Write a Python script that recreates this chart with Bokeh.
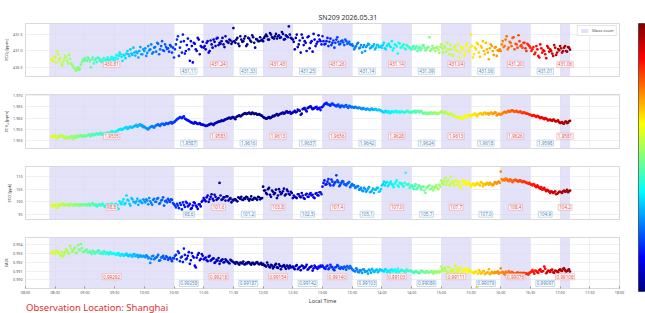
import numpy as np
from bokeh.plotting import figure
from bokeh.models import (Range1d, FixedTicker, Label, Legend, LegendItem,
                          LinearColorMapper, Title, ColumnDataSource, PrintfTickFormatter)
from bokeh.layouts import column, row
from bokeh.embed import file_html
from bokeh.resources import INLINE
from bokeh.transform import linear_cmap

# ---------------- data ----------------
# two interleaved sample sets, each every 2 minutes
START_A = "08:26"
START_B = "08:27"
STEP_MIN = 2

XCO2_A = [
    430.75, 430.68, 430.80, 431.00, 430.72, 430.60, 430.66, 430.85, 430.70, 430.88, 430.62, 430.52, 430.47, 430.44, 430.42, 430.58, 430.74,
    430.78, 430.70, 430.76, 430.50, 430.80, 430.72, 430.66, 430.78, 430.74, 430.70, 430.68, 430.75, 430.72, 430.76, 430.74,
    430.72, 430.88, 430.85, 430.90, 430.70, 430.86, 430.92, 430.90, 431.05, 430.88, 430.95, 430.98, 430.80, 431.12, 430.90,
    431.00, 430.85, 431.15, 431.05, 430.92, 431.10, 430.98, 431.22, 431.05, 431.30, 431.00, 431.12, 431.08, 431.18, 430.95,
    430.80, 431.20, 431.45, 431.10, 430.95, 431.30, 431.00, 431.38, 430.70, 431.15, 431.25, 431.05, 431.40, 430.90, 431.12,
    431.10, 431.05, 431.30, 431.00, 431.20, 431.35, 431.15, 431.40, 431.25, 431.30, 431.20, 431.45, 431.28, 431.35, 431.22,
    431.70, 431.25, 431.40, 431.15, 431.35, 431.30, 431.45, 431.20, 431.38, 431.28, 431.42, 431.10, 431.35, 431.30, 431.32,
    431.30, 431.45, 431.45, 431.35, 431.50, 431.40, 431.45, 431.38, 431.48, 431.42, 431.52, 431.36, 431.45, 431.75, 431.40,
    431.35, 431.05, 431.50, 431.20, 430.95, 431.40, 431.30, 431.00, 431.45, 431.25, 430.98, 431.35, 431.22, 431.48, 431.30,
    431.45, 431.20, 431.30, 431.15, 431.38, 431.25, 431.10, 431.35, 431.28, 431.22, 431.32, 431.18, 431.30, 431.24, 431.20,
    431.20, 431.05, 431.15, 431.25, 431.10, 430.95, 431.18, 431.12, 431.22, 431.08, 431.15, 431.20, 431.10, 431.18, 431.12,
    431.10, 431.25, 431.05, 431.20, 431.15, 431.30, 431.08, 431.18, 430.92, 431.22, 431.12, 431.20, 431.05, 431.15, 431.10,
    431.05, 431.15, 431.10, 431.00, 431.12, 431.08, 431.18, 431.02, 431.10, 431.42, 431.05, 431.08, 431.00, 431.12, 430.95,
    431.20, 430.95, 431.10, 431.25, 430.90, 431.05, 430.85, 431.15, 431.00, 430.80, 431.12, 431.08, 430.92, 431.22, 431.00,
    431.50, 430.80, 431.10, 431.25, 430.95, 431.15, 431.30, 430.90, 431.05, 430.75, 431.20, 431.00, 431.10, 430.85, 431.00,
    431.00, 431.30, 431.15, 431.45, 431.10, 431.25, 431.40, 431.05, 431.20, 431.48, 431.15, 431.10, 431.25, 431.00, 431.18,
    431.10, 431.05, 430.90, 431.15, 430.85, 431.20, 430.95, 431.00, 430.78, 431.10, 431.05, 430.92, 431.18, 430.88, 431.06,
    431.15, 430.95, 431.10, 431.00, 431.12, 431.04,
]
XCO2_B = [
    430.70, 430.82, 430.65, 430.90, 430.78, 430.55, 430.74, 430.80, 430.62, 430.76, 430.58, 430.48, 430.40, 430.50, 430.46, 430.66, 430.70,
    430.72, 430.80, 430.68, 430.74, 430.62, 430.76, 430.80, 430.70, 430.66, 430.78, 430.72, 430.80, 430.70, 430.82, 430.78,
    430.80, 430.76, 430.95, 430.82, 430.88, 430.78, 431.00, 430.84, 430.92, 431.10, 430.86, 430.94, 431.00, 430.90, 431.05,
    431.08, 430.94, 431.02, 431.20, 430.96, 431.12, 431.25, 430.90, 431.15, 431.02, 431.20, 431.06, 430.98, 431.14, 431.10,
    431.05, 431.35, 430.85, 431.28, 431.50, 430.92, 431.18, 431.05, 431.30, 430.65, 431.22, 431.00, 431.35, 431.15, 431.28,
    431.15, 431.25, 430.95, 431.32, 431.10, 431.28, 431.38, 431.18, 431.22, 431.40, 431.12, 431.30, 431.25, 431.32, 431.28,
    431.30, 431.35, 431.22, 431.45, 431.28, 431.38, 431.15, 431.40, 431.32, 431.48, 431.25, 431.36, 431.30, 431.42, 431.35,
    431.40, 431.50, 431.35, 431.55, 431.42, 431.38, 431.52, 431.45, 431.40, 431.58, 431.35, 431.48, 431.42, 431.50, 431.38,
    431.28, 431.40, 431.12, 431.32, 431.50, 431.18, 431.25, 431.42, 431.08, 431.30, 431.52, 431.15, 431.28, 431.35, 431.20,
    431.30, 431.22, 431.40, 431.28, 431.18, 431.32, 431.25, 431.42, 431.20, 431.30, 431.26, 431.35, 431.22, 431.28, 431.18,
    431.15, 431.10, 431.22, 431.08, 431.18, 431.12, 431.00, 431.16, 431.20, 431.10, 431.14, 431.05, 431.18, 431.12, 431.15,
    431.18, 431.08, 431.15, 431.22, 431.12, 431.02, 431.20, 431.14, 431.25, 431.10, 431.16, 431.08, 431.18, 431.12, 431.06,
    431.12, 431.06, 431.14, 431.08, 431.02, 431.16, 431.10, 431.05, 431.12, 431.00, 431.15, 431.08, 431.10, 431.04, 431.12,
    431.08, 431.15, 430.98, 431.05, 431.18, 430.88, 431.10, 431.02, 431.20, 430.95, 431.06, 430.85, 431.15, 431.00, 431.10,
    431.15, 430.90, 431.05, 431.20, 430.82, 431.10, 431.00, 431.25, 430.95, 431.08, 431.15, 430.88, 431.12, 431.02, 431.05,
    431.20, 431.12, 431.35, 431.05, 431.28, 431.15, 431.42, 431.22, 431.10, 431.30, 431.18, 431.25, 431.08, 431.22, 431.15,
    431.00, 431.12, 430.95, 431.05, 430.80, 431.08, 431.02, 430.90, 431.15, 430.98, 431.00, 430.85, 431.10, 430.95, 431.02,
    431.08, 431.00, 431.15, 430.98, 431.10,
]

XCH4_A = [
    1.9520, 1.9515, 1.9522, 1.9512, 1.9518, 1.9525, 1.9520, 1.9510, 1.9515, 1.9512, 1.9520, 1.9508, 1.9515, 1.9522, 1.9518, 1.9525, 1.9520,
    1.9518, 1.9522, 1.9528, 1.9520, 1.9530, 1.9526, 1.9532, 1.9528, 1.9535, 1.9530, 1.9526, 1.9534, 1.9530, 1.9538, 1.9540,
    1.9535, 1.9542, 1.9548, 1.9552, 1.9550, 1.9556, 1.9560, 1.9555, 1.9562, 1.9558, 1.9564, 1.9570, 1.9566, 1.9572, 1.9568,
    1.9562, 1.9555, 1.9550, 1.9560, 1.9565, 1.9558, 1.9568, 1.9572, 1.9565, 1.9575, 1.9570, 1.9578, 1.9574, 1.9580, 1.9576,
    1.9582, 1.9590, 1.9598, 1.9605, 1.9600, 1.9608, 1.9595, 1.9590, 1.9585, 1.9580, 1.9576, 1.9580, 1.9574, 1.9578, 1.9572,
    1.9570, 1.9565, 1.9568, 1.9572, 1.9575, 1.9570, 1.9578, 1.9582, 1.9585, 1.9590, 1.9588, 1.9595, 1.9598, 1.9602, 1.9600,
    1.9605, 1.9595, 1.9608, 1.9612, 1.9610, 1.9618, 1.9622, 1.9620, 1.9625, 1.9618, 1.9622, 1.9620, 1.9615, 1.9618, 1.9612,
    1.9605, 1.9600, 1.9598, 1.9605, 1.9602, 1.9610, 1.9612, 1.9618, 1.9615, 1.9620, 1.9625, 1.9622, 1.9630, 1.9626, 1.9620,
    1.9625, 1.9632, 1.9628, 1.9635, 1.9615, 1.9640, 1.9645, 1.9630, 1.9648, 1.9652, 1.9640, 1.9645, 1.9650, 1.9642, 1.9636,
    1.9650, 1.9662, 1.9668, 1.9660, 1.9655, 1.9665, 1.9658, 1.9652, 1.9660, 1.9648, 1.9655, 1.9650, 1.9658, 1.9645, 1.9652,
    1.9650, 1.9646, 1.9648, 1.9644, 1.9645, 1.9640, 1.9642, 1.9638, 1.9640, 1.9636, 1.9642, 1.9638, 1.9640, 1.9635, 1.9636,
    1.9630, 1.9625, 1.9632, 1.9628, 1.9622, 1.9630, 1.9626, 1.9632, 1.9628, 1.9624, 1.9630, 1.9626, 1.9628, 1.9632, 1.9625,
    1.9628, 1.9630, 1.9624, 1.9632, 1.9626, 1.9630, 1.9620, 1.9625, 1.9618, 1.9622, 1.9626, 1.9620, 1.9624, 1.9618, 1.9622,
    1.9630, 1.9625, 1.9628, 1.9620, 1.9615, 1.9618, 1.9612, 1.9608, 1.9605, 1.9600, 1.9605, 1.9598, 1.9610, 1.9604, 1.9615,
    1.9610, 1.9615, 1.9620, 1.9608, 1.9618, 1.9622, 1.9615, 1.9625, 1.9620, 1.9616, 1.9624, 1.9618, 1.9626, 1.9612, 1.9620,
    1.9615, 1.9622, 1.9628, 1.9625, 1.9632, 1.9630, 1.9635, 1.9628, 1.9632, 1.9626, 1.9630, 1.9622, 1.9625, 1.9620, 1.9618,
    1.9615, 1.9610, 1.9612, 1.9605, 1.9608, 1.9600, 1.9602, 1.9595, 1.9598, 1.9590, 1.9594, 1.9588, 1.9592, 1.9585, 1.9590,
    1.9578, 1.9582, 1.9575, 1.9585, 1.9580, 1.9588,
]
XCH4_B = [
    1.9518, 1.9522, 1.9514, 1.9520, 1.9516, 1.9522, 1.9512, 1.9518, 1.9510, 1.9516, 1.9514, 1.9520, 1.9512, 1.9518, 1.9522, 1.9516, 1.9524,
    1.9520, 1.9525, 1.9522, 1.9528, 1.9524, 1.9530, 1.9528, 1.9532, 1.9526, 1.9532, 1.9530, 1.9536, 1.9534, 1.9540, 1.9538,
    1.9540, 1.9545, 1.9550, 1.9548, 1.9554, 1.9558, 1.9552, 1.9560, 1.9558, 1.9562, 1.9566, 1.9562, 1.9570, 1.9566, 1.9560,
    1.9558, 1.9552, 1.9556, 1.9562, 1.9560, 1.9565, 1.9570, 1.9568, 1.9572, 1.9574, 1.9572, 1.9576, 1.9578, 1.9582, 1.9580,
    1.9586, 1.9594, 1.9600, 1.9602, 1.9604, 1.9598, 1.9592, 1.9588, 1.9582, 1.9578, 1.9582, 1.9576, 1.9575, 1.9572, 1.9570,
    1.9568, 1.9566, 1.9570, 1.9574, 1.9572, 1.9576, 1.9580, 1.9584, 1.9586, 1.9588, 1.9592, 1.9596, 1.9600, 1.9598, 1.9604,
    1.9600, 1.9605, 1.9610, 1.9608, 1.9615, 1.9620, 1.9618, 1.9622, 1.9620, 1.9624, 1.9618, 1.9620, 1.9616, 1.9614, 1.9610,
    1.9602, 1.9598, 1.9602, 1.9600, 1.9606, 1.9608, 1.9615, 1.9612, 1.9618, 1.9622, 1.9620, 1.9628, 1.9624, 1.9628, 1.9622,
    1.9628, 1.9626, 1.9638, 1.9632, 1.9620, 1.9642, 1.9636, 1.9644, 1.9650, 1.9646, 1.9642, 1.9648, 1.9640, 1.9646, 1.9648,
    1.9656, 1.9664, 1.9662, 1.9658, 1.9662, 1.9660, 1.9655, 1.9658, 1.9652, 1.9656, 1.9652, 1.9656, 1.9650, 1.9654, 1.9648,
    1.9648, 1.9650, 1.9645, 1.9647, 1.9642, 1.9644, 1.9640, 1.9642, 1.9638, 1.9640, 1.9637, 1.9640, 1.9636, 1.9638, 1.9633,
    1.9628, 1.9630, 1.9626, 1.9630, 1.9625, 1.9628, 1.9630, 1.9626, 1.9630, 1.9627, 1.9628, 1.9624, 1.9630, 1.9628, 1.9626,
    1.9626, 1.9632, 1.9628, 1.9628, 1.9632, 1.9624, 1.9622, 1.9620, 1.9624, 1.9620, 1.9622, 1.9624, 1.9620, 1.9622, 1.9626,
    1.9628, 1.9622, 1.9624, 1.9618, 1.9620, 1.9614, 1.9610, 1.9606, 1.9602, 1.9603, 1.9600, 1.9606, 1.9608, 1.9612, 1.9610,
    1.9612, 1.9618, 1.9614, 1.9616, 1.9620, 1.9618, 1.9622, 1.9618, 1.9622, 1.9620, 1.9622, 1.9620, 1.9624, 1.9616, 1.9618,
    1.9618, 1.9625, 1.9626, 1.9630, 1.9628, 1.9634, 1.9630, 1.9630, 1.9628, 1.9628, 1.9624, 1.9626, 1.9622, 1.9620, 1.9616,
    1.9612, 1.9614, 1.9608, 1.9610, 1.9604, 1.9604, 1.9598, 1.9600, 1.9594, 1.9592, 1.9590, 1.9594, 1.9586, 1.9588, 1.9582,
    1.9580, 1.9576, 1.9584, 1.9578, 1.9586,
]

XCO_A = [
    98.5, 98.2, 98.8, 97.5, 99.0, 98.6, 99.2, 98.8, 99.0, 98.4, 99.1, 98.7, 99.2, 98.5, 99.0, 98.8, 98.6,
    99.0, 98.5, 99.2, 98.8, 99.5, 98.6, 98.2, 99.0, 98.5, 99.2, 98.0, 98.8, 99.0, 98.4, 98.6,
    98.5, 98.0, 97.2, 99.5, 100.0, 99.0, 102.5, 100.5, 98.5, 101.0, 99.8, 100.2, 98.8, 100.5, 99.5,
    100.5, 101.0, 99.0, 100.2, 98.8, 101.2, 100.0, 101.5, 99.5, 100.8, 98.5, 100.5, 101.2, 100.0, 100.8,
    99.0, 97.8, 98.5, 99.5, 97.0, 98.8, 100.0, 98.2, 99.2, 97.5, 99.8, 98.5, 97.2, 99.0, 100.0,
    101.5, 100.2, 102.5, 101.0, 103.0, 100.5, 102.0, 101.2, 107.5, 100.8, 101.8, 100.5, 102.2, 101.0, 99.8,
    100.5, 101.0, 100.2, 101.5, 102.0, 100.8, 101.2, 101.8, 100.5, 102.2, 101.0, 101.5, 100.8, 101.8, 101.4,
    106.0, 104.5, 103.0, 105.5, 102.0, 104.0, 103.5, 101.5, 105.0, 103.0, 104.2, 102.5, 104.8, 103.2, 104.0,
    101.5, 102.0, 101.5, 103.0, 101.8, 102.5, 101.2, 103.2, 102.0, 103.5, 102.8, 101.5, 103.5, 102.5, 103.8,
    106.0, 108.5, 107.0, 109.0, 106.5, 108.0, 107.2, 110.5, 107.8, 106.8, 108.2, 107.0, 106.5, 107.5, 105.8,
    107.0, 106.5, 105.8, 106.2, 105.0, 104.5, 105.5, 104.0, 105.2, 103.8, 104.5, 103.5, 104.8, 105.5, 104.2,
    106.5, 108.0, 107.5, 106.2, 107.5, 107.0, 105.8, 107.8, 106.5, 107.5, 107.2, 106.0, 111.5, 106.8, 105.5,
    106.5, 105.0, 107.0, 105.5, 106.2, 104.8, 106.0, 103.5, 105.8, 106.5, 105.2, 104.5, 106.0, 105.5, 106.8,
    108.5, 107.0, 109.5, 108.0, 106.5, 110.0, 107.5, 108.2, 106.8, 107.8, 105.5, 108.5, 107.2, 106.8, 107.5,
    106.0, 107.2, 106.5, 107.5, 106.8, 107.8, 106.2, 107.0, 107.5, 106.8, 107.2, 106.5, 107.8, 107.2, 108.0,
    112.0, 108.5, 108.5, 109.0, 108.2, 108.8, 107.8, 108.5, 108.5, 108.0, 108.5, 107.8, 108.0, 107.5, 107.2,
    107.0, 106.5, 106.8, 105.8, 106.0, 105.2, 104.8, 105.5, 104.2, 104.5, 103.5, 104.0, 103.8, 103.0, 103.5,
    104.0, 103.5, 104.5, 104.2, 103.8, 104.5,
]
XCO_B = [
    98.8, 98.4, 99.0, 98.2, 98.8, 99.2, 98.5, 99.0, 98.6, 99.2, 98.8, 98.5, 99.0, 98.8, 98.4, 99.1, 98.8,
    98.8, 99.0, 98.4, 99.2, 98.7, 99.0, 98.5, 98.8, 99.2, 98.6, 98.4, 99.0, 98.7, 99.2, 98.8,
    99.2, 98.8, 100.2, 99.0, 101.0, 99.5, 100.8, 99.2, 101.5, 100.0, 99.5, 101.2, 100.2, 99.8, 101.0,
    99.8, 100.5, 101.5, 99.5, 100.8, 100.0, 101.2, 99.2, 100.5, 101.8, 100.2, 99.8, 100.5, 101.0, 99.5,
    98.5, 99.2, 97.5, 98.8, 99.8, 98.0, 99.5, 98.6, 97.2, 98.5, 99.5, 98.0, 99.0, 98.2, 100.5,
    100.8, 101.8, 100.0, 102.0, 101.2, 102.8, 100.8, 101.5, 102.5, 101.0, 101.8, 102.2, 100.5, 101.5, 100.8,
    101.0, 100.5, 101.8, 101.2, 100.8, 101.5, 102.0, 101.0, 101.2, 100.8, 101.6, 101.2, 102.0, 101.0, 101.5,
    104.5, 103.5, 105.0, 102.8, 104.5, 103.0, 104.8, 102.5, 104.0, 103.5, 105.2, 103.0, 104.2, 102.8, 103.5,
    102.5, 101.8, 103.0, 102.2, 103.5, 101.5, 102.8, 102.0, 103.0, 102.5, 101.8, 103.2, 102.6, 103.8, 103.0,
    107.5, 106.8, 108.0, 107.2, 108.8, 106.5, 107.8, 108.5, 106.2, 107.5, 108.0, 106.8, 107.2, 107.8, 106.5,
    106.5, 105.5, 106.0, 104.8, 105.5, 104.2, 105.0, 104.5, 105.8, 104.0, 105.2, 104.8, 105.5, 104.0, 105.0,
    107.0, 106.5, 107.8, 106.8, 108.0, 106.5, 107.2, 108.5, 106.0, 107.2, 106.5, 107.5, 106.8, 107.0, 106.2,
    105.8, 106.2, 105.0, 106.5, 105.5, 106.0, 104.5, 105.5, 106.2, 105.0, 106.0, 105.5, 106.5, 105.0, 106.0,
    107.5, 108.2, 106.8, 108.8, 107.2, 108.0, 106.5, 108.5, 107.5, 106.2, 108.0, 107.0, 108.2, 107.5, 107.0,
    106.5, 107.0, 106.8, 107.2, 106.5, 107.5, 107.0, 106.8, 107.2, 107.5, 106.8, 107.0, 107.5, 107.8, 107.5,
    109.0, 108.8, 109.2, 108.5, 108.8, 108.2, 108.5, 108.8, 108.2, 108.5, 108.0, 108.2, 107.8, 107.5, 107.5,
    106.8, 107.0, 106.2, 106.5, 105.5, 105.8, 105.0, 104.8, 104.8, 104.0, 104.2, 103.5, 104.2, 103.2, 104.0,
    103.8, 104.2, 104.0, 104.8, 104.2,
]

XAIR_A = [
    0.99300, 0.99315, 0.99290, 0.99320, 0.99305, 0.99280, 0.99260, 0.99310, 0.99330, 0.99295, 0.99350, 0.99320, 0.99360, 0.99305, 0.99340, 0.99400, 0.99310,
    0.99320, 0.99340, 0.99310, 0.99300, 0.99325, 0.99295, 0.99310, 0.99330, 0.99305, 0.99290, 0.99315, 0.99300, 0.99285, 0.99310, 0.99295,
    0.99290, 0.99280, 0.99300, 0.99270, 0.99285, 0.99275, 0.99295, 0.99265, 0.99280, 0.99260, 0.99290, 0.99270, 0.99255, 0.99275, 0.99265,
    0.99260, 0.99275, 0.99240, 0.99190, 0.99265, 0.99230, 0.99250, 0.99280, 0.99220, 0.99255, 0.99240, 0.99265, 0.99225, 0.99250, 0.99210,
    0.99240, 0.99280, 0.99320, 0.99210, 0.99260, 0.99350, 0.99230, 0.99270, 0.99180, 0.99300, 0.99250, 0.99140, 0.99280, 0.99220, 0.99290,
    0.99230, 0.99250, 0.99210, 0.99270, 0.99225, 0.99240, 0.99200, 0.99215, 0.99180, 0.99220, 0.99195, 0.99230, 0.99205, 0.99185, 0.99215,
    0.99200, 0.99180, 0.99195, 0.99170, 0.99190, 0.99205, 0.99175, 0.99185, 0.99195, 0.99170, 0.99190, 0.99180, 0.99200, 0.99175, 0.99190,
    0.99180, 0.99160, 0.99195, 0.99150, 0.99170, 0.99130, 0.99165, 0.99140, 0.99175, 0.99120, 0.99155, 0.99145, 0.99160, 0.99130, 0.99140,
    0.99150, 0.99120, 0.99165, 0.99135, 0.99110, 0.99155, 0.99140, 0.99170, 0.99125, 0.99145, 0.99105, 0.99160, 0.99135, 0.99150, 0.99160,
    0.99160, 0.99130, 0.99150, 0.99120, 0.99170, 0.99140, 0.99110, 0.99145, 0.99155, 0.99125, 0.99135, 0.99150, 0.99115, 0.99140, 0.99155,
    0.99120, 0.99100, 0.99130, 0.99090, 0.99110, 0.99080, 0.99115, 0.99095, 0.99070, 0.99105, 0.99125, 0.99090, 0.99110, 0.99085, 0.99120,
    0.99110, 0.99095, 0.99120, 0.99100, 0.99085, 0.99115, 0.99105, 0.99090, 0.99125, 0.99095, 0.99110, 0.99100, 0.99090, 0.99105, 0.99100,
    0.99095, 0.99080, 0.99100, 0.99085, 0.99075, 0.99105, 0.99090, 0.99080, 0.99095, 0.99085, 0.99100, 0.99070, 0.99090, 0.99095, 0.99085,
    0.99150, 0.99100, 0.99125, 0.99080, 0.99140, 0.99095, 0.99110, 0.99160, 0.99090, 0.99120, 0.99075, 0.99110, 0.99130, 0.99085, 0.99095,
    0.99100, 0.99080, 0.99085, 0.98920, 0.99110, 0.99070, 0.99095, 0.99065, 0.99080, 0.99120, 0.99075, 0.99080, 0.99090, 0.99085, 0.99070,
    0.99130, 0.99090, 0.99060, 0.99080, 0.99100, 0.99070, 0.99085, 0.99065, 0.99075, 0.99060, 0.99080, 0.99070, 0.99065, 0.99075, 0.99060,
    0.99085, 0.99110, 0.99070, 0.99100, 0.99080, 0.99120, 0.99095, 0.99150, 0.99075, 0.99105, 0.99090, 0.99115, 0.99080, 0.99100, 0.99085,
    0.99120, 0.99100, 0.99130, 0.99095, 0.99110, 0.99095,
]
XAIR_B = [
    0.99310, 0.99295, 0.99325, 0.99300, 0.99270, 0.99315, 0.99285, 0.99340, 0.99300, 0.99380, 0.99315, 0.99345, 0.99300, 0.99390, 0.99330, 0.99355, 0.99320,
    0.99330, 0.99305, 0.99320, 0.99290, 0.99315, 0.99305, 0.99325, 0.99295, 0.99300, 0.99320, 0.99290, 0.99305, 0.99300, 0.99290, 0.99300,
    0.99285, 0.99295, 0.99275, 0.99290, 0.99270, 0.99285, 0.99275, 0.99280, 0.99270, 0.99285, 0.99265, 0.99280, 0.99270, 0.99260, 0.99270,
    0.99255, 0.99265, 0.99250, 0.99235, 0.99270, 0.99245, 0.99260, 0.99215, 0.99250, 0.99270, 0.99235, 0.99255, 0.99240, 0.99230, 0.99245,
    0.99270, 0.99230, 0.99300, 0.99250, 0.99200, 0.99280, 0.99240, 0.99310, 0.99220, 0.99265, 0.99160, 0.99250, 0.99300, 0.99235, 0.99270,
    0.99240, 0.99220, 0.99260, 0.99215, 0.99235, 0.99190, 0.99225, 0.99245, 0.99210, 0.99230, 0.99200, 0.99215, 0.99195, 0.99225, 0.99205,
    0.99190, 0.99200, 0.99180, 0.99195, 0.99185, 0.99175, 0.99190, 0.99200, 0.99180, 0.99190, 0.99175, 0.99195, 0.99185, 0.99180, 0.99170,
    0.99165, 0.99150, 0.99170, 0.99140, 0.99160, 0.99145, 0.99180, 0.99135, 0.99155, 0.99150, 0.99165, 0.99125, 0.99150, 0.99160, 0.99145,
    0.99135, 0.99155, 0.99120, 0.99145, 0.99160, 0.99130, 0.99150, 0.99115, 0.99140, 0.99155, 0.99130, 0.99145, 0.99125, 0.99140, 0.99150,
    0.99145, 0.99125, 0.99160, 0.99135, 0.99150, 0.99120, 0.99140, 0.99165, 0.99130, 0.99145, 0.99125, 0.99140, 0.99155, 0.99130, 0.99135,
    0.99110, 0.99095, 0.99115, 0.99085, 0.99105, 0.99120, 0.99090, 0.99100, 0.99115, 0.99080, 0.99105, 0.99095, 0.99115, 0.99100, 0.99110,
    0.99100, 0.99115, 0.99090, 0.99105, 0.99110, 0.99095, 0.99115, 0.99100, 0.99090, 0.99110, 0.99105, 0.99095, 0.99115, 0.99100, 0.99105,
    0.99090, 0.99085, 0.99095, 0.99080, 0.99090, 0.99100, 0.99085, 0.99095, 0.99080, 0.99090, 0.99085, 0.99095, 0.99080, 0.99090, 0.99095,
    0.99120, 0.99135, 0.99100, 0.99145, 0.99095, 0.99120, 0.99085, 0.99130, 0.99105, 0.99140, 0.99090, 0.99115, 0.99100, 0.99125, 0.99105,
    0.99085, 0.99075, 0.99095, 0.99070, 0.99090, 0.99080, 0.99100, 0.99075, 0.99085, 0.99065, 0.99090, 0.99075, 0.99080, 0.99095, 0.99080,
    0.99085, 0.99075, 0.99090, 0.99070, 0.99080, 0.99090, 0.99075, 0.99070, 0.99085, 0.99075, 0.99070, 0.99080, 0.99075, 0.99065, 0.99080,
    0.99095, 0.99090, 0.99105, 0.99085, 0.99110, 0.99095, 0.99100, 0.99125, 0.99090, 0.99100, 0.99110, 0.99085, 0.99105, 0.99095, 0.99110,
    0.99105, 0.99125, 0.99110, 0.99100, 0.99120,
]

COVER_START = ["08:24", "11:00", "12:00", "13:00", "14:00", "15:00", "16:00", "17:00"]
COVER_END   = ["10:30", "11:30", "12:30", "13:30", "14:30", "15:30", "16:30", "17:10"]
OPEN_START  = ["10:30", "11:30", "12:30", "13:30", "14:30", "15:30", "16:30"]
OPEN_END    = ["11:00", "12:00", "13:00", "14:00", "15:00", "16:00", "17:00"]

XCO2_COVER = ["430.81", "431.24", "431.43", "431.26", "431.14", "431.04", "431.20", "431.06"]
XCO2_OPEN  = ["431.11", "431.33", "431.25", "431.14", "431.09", "431.06", "431.01"]
XCH4_COVER = ["1.9535", "1.9583", "1.9613", "1.9656", "1.9628", "1.9613", "1.9626", "1.9581"]
XCH4_OPEN  = ["1.9587", "1.9616", "1.9637", "1.9642", "1.9624", "1.9618", "1.9598"]
XCO_COVER  = ["98.8", "101.6", "103.8", "107.4", "107.0", "107.7", "108.4", "104.2"]
XCO_OPEN   = ["98.6", "101.2", "102.5", "105.1", "105.7", "107.0", "104.9"]
XAIR_COVER = ["0.99292", "0.99218", "0.99154", "0.99140", "0.99103", "0.99111", "0.99076", "0.99108"]
XAIR_OPEN  = ["0.99258", "0.99187", "0.99142", "0.99103", "0.99089", "0.99079", "0.99097"]

X_TICK_LABELS = ["08:00", "08:30", "09:00", "09:30", "10:00", "10:30", "11:00", "11:30", "12:00", "12:30",
                 "13:00", "13:30", "14:00", "14:30", "15:00", "15:30", "16:00", "16:30", "17:00", "17:30", "18:00"]
YT_XCO2 = [430.5, 431.0, 431.5]
YT_XCH4 = [1.950, 1.955, 1.960, 1.965, 1.970]
YT_XCO = [95, 100, 105, 110]
YT_XAIR = [0.990, 0.991, 0.992, 0.993, 0.994]

SITE_LAT, SITE_LON, TZ, DOY = 31.23, 121.47, 8, 151


def hm(s):
    h, m = s.split(":")
    return int(h) + int(m) / 60.0


def times(start, count):
    return hm(start) + STEP_MIN * np.arange(count) / 60.0


def solar_zenith(t):
    g = 2 * np.pi / 365 * (DOY - 1 + (t - TZ - 12) / 24)
    eqt = 229.18 * (0.000075 + 0.001868 * np.cos(g) - 0.032077 * np.sin(g)
                    - 0.014615 * np.cos(2 * g) - 0.040849 * np.sin(2 * g))
    decl = (0.006918 - 0.399912 * np.cos(g) + 0.070257 * np.sin(g) - 0.006758 * np.cos(2 * g)
            + 0.000907 * np.sin(2 * g) - 0.002697 * np.cos(3 * g) + 0.00148 * np.sin(3 * g))
    tst = t * 60 + eqt + 4 * SITE_LON - 60 * TZ
    ha = np.radians(tst / 4 - 180)
    lat = np.radians(SITE_LAT)
    return np.degrees(np.arccos(np.sin(lat) * np.sin(decl) + np.cos(lat) * np.cos(decl) * np.cos(ha)))


def jet(x):
    r = np.clip(1.5 - np.abs(4 * x - 3), 0, 1)
    gg = np.clip(1.5 - np.abs(4 * x - 2), 0, 1)
    b = np.clip(1.5 - np.abs(4 * x - 1), 0, 1)
    return "#%02x%02x%02x" % (int(r * 255), int(gg * 255), int(b * 255))


JET = [jet(v) for v in np.linspace(0, 1, 256)]

FONT = "Noto Sans"
SHADE = "#d9d8f5"
xr = Range1d(8, 18)
x_ticks = [8 + 0.5 * i for i in range(len(X_TICK_LABELS))]
FW = 638          # panel figure width (colour bar takes the rest of 645)
BL, BR = 25, 19   # left / right borders -> frame 25..619


def panel(vals_a, vals_b, ylo, yhi, yticks, fmt, ylabel, cov_lbl, open_lbl, top, frame_h, bottom,
          last=False, legend=False, title=None):
    p = figure(width=FW, height=top + frame_h + bottom, x_range=xr, y_range=Range1d(ylo, yhi),
               output_backend="svg", toolbar_location=None,
               min_border_left=BL, min_border_right=BR, min_border_top=top, min_border_bottom=bottom)
    p.outline_line_color = "#cfcfcf"
    p.outline_line_width = 0.8
    cs = [hm(s) for s in COVER_START]
    ce = [hm(s) for s in COVER_END]
    shade = p.quad(left=cs, right=ce, bottom=ylo, top=yhi, fill_color=SHADE, fill_alpha=0.75, line_color=None)
    tt = np.concatenate([times(START_A, len(vals_a)), times(START_B, len(vals_b))])
    vv = np.concatenate([vals_a, vals_b])
    src = ColumnDataSource(dict(t=tt, v=vv, sza=solar_zenith(tt)))
    p.scatter("t", "v", source=src, size=2.7, line_color=None,
              fill_color=linear_cmap("sza", JET, 9, 72))
    p.xgrid.ticker = FixedTicker(ticks=x_ticks)
    p.ygrid.ticker = FixedTicker(ticks=yticks)
    p.grid.grid_line_color = "#e6e6e6"
    p.grid.grid_line_width = 0.6
    ya = p.yaxis[0]
    ya.ticker = FixedTicker(ticks=yticks)
    ya.formatter = PrintfTickFormatter(format=fmt)
    ya.axis_label = ylabel
    ya.axis_label_text_font = FONT
    ya.axis_label_text_font_size = "4px"
    ya.axis_label_text_font_style = "normal"
    ya.axis_label_text_color = "#444444"
    ya.axis_label_standoff = 1
    ya.major_label_text_font = FONT
    ya.major_label_text_font_size = "3.7px"
    ya.major_label_text_color = "#555555"
    ya.major_label_standoff = 3
    ya.major_tick_out = 0
    ya.major_tick_in = 0
    ya.minor_tick_line_color = None
    ya.axis_line_color = None
    xa = p.xaxis[0]
    if last:
        xa.ticker = FixedTicker(ticks=x_ticks)
        xa.axis_line_color = None
        xa.minor_tick_line_color = None
        xa.major_tick_out = 0
        xa.major_tick_in = 2
        xa.major_tick_line_color = "#999999"
        xa.major_label_overrides = {x: s for x, s in zip(x_ticks, X_TICK_LABELS)}
        xa.major_label_text_font = FONT
        xa.major_label_text_font_size = "3.7px"
        xa.major_label_text_color = "#555555"
        xa.major_label_standoff = 1
    else:
        xa.visible = False
    span = yhi - ylo
    for s, e, txt in zip(COVER_START, COVER_END, cov_lbl):
        p.add_layout(Label(x=(hm(s) + hm(e)) / 2, y=ylo + 0.23 * span, text=txt,
                           text_font=FONT, text_font_size="4.6px", text_color="#de4e4e",
                           text_align="center", text_baseline="middle",
                           background_fill_color="white", background_fill_alpha=0.85,
                           border_line_color="#f0aaaa", border_line_width=0.7, padding=1))
    for s, e, txt in zip(OPEN_START, OPEN_END, open_lbl):
        p.add_layout(Label(x=(hm(s) + hm(e)) / 2, y=ylo + 0.10 * span, text=txt,
                           text_font=FONT, text_font_size="4.6px", text_color="#4a84b8",
                           text_align="center", text_baseline="middle",
                           background_fill_color="white", background_fill_alpha=0.85,
                           border_line_color="#a6c8e4", border_line_width=0.7, padding=1))
    if legend:
        lg = Legend(items=[LegendItem(label="Glass cover", renderers=[shade])], location="top_right",
                    label_text_font=FONT, label_text_font_size="4.2px", label_text_color="#444444",
                    glyph_width=9, glyph_height=5, label_height=5, label_standoff=3,
                    padding=2, margin=2, spacing=0, border_line_color="#cccccc", border_line_width=0.6)
        p.add_layout(lg, "center")
    if title:
        p.title = Title(text=title, align="left", offset=293, text_font=FONT, text_font_size="7px",
                        text_font_style="normal", text_color="#333333", standoff=3)
    return p


p1 = panel(XCO2_A, XCO2_B, 430.22, 431.84, YT_XCO2, "%.1f", "XCO₂ [ppm]", XCO2_COVER, XCO2_OPEN, 23, 53, 9,
           legend=True, title="SN209 2026.05.31")
p2 = panel(XCH4_A, XCH4_B, 1.9465, 1.9705, YT_XCH4, "%.3f", "XCH₄ [ppm]", XCH4_COVER, XCH4_OPEN, 9, 54, 9)
p3 = panel(XCO_A, XCO_B, 93.0, 114.0, YT_XCO, "%d", "XCO [ppb]", XCO_COVER, XCO_OPEN, 9, 53, 9)
p4 = panel(XAIR_A, XAIR_B, 0.98905, 0.99474, YT_XAIR, "%.3f", "XAIR", XAIR_COVER, XAIR_OPEN, 9, 54, 6, last=True)

# footer strip: x-axis title and site note (y range in pixels)
FOOT_H = 313 - (23 + 53 + 9) - (9 + 54 + 9) - (9 + 53 + 9) - (9 + 54 + 6)
foot = figure(width=FW, height=FOOT_H, x_range=xr, y_range=Range1d(0, FOOT_H),
              output_backend="svg", toolbar_location=None,
              min_border_left=BL, min_border_right=BR, min_border_top=0, min_border_bottom=0)
foot.axis.visible = False
foot.grid.visible = False
foot.outline_line_color = None
foot.add_layout(Label(x=(xr.start + xr.end) / 2, y=FOOT_H - 3.5, text="Local Time", text_font=FONT,
                      text_font_size="5.5px", text_color="#444444",
                      text_align="center", text_baseline="middle"))
foot.add_layout(Label(x=xr.start, x_offset=0.5, y=6.2, text="Observation Location: Shanghai", text_font=FONT,
                      text_font_size="9.5px", text_color="#e32d2d",
                      text_align="left", text_baseline="alphabetic"))

cb = figure(width=645 - FW, height=313, x_range=Range1d(0, 1), y_range=Range1d(0, 1),
            output_backend="svg", toolbar_location=None,
            min_border_left=0, min_border_right=0, min_border_top=23, min_border_bottom=22)
cb.axis.visible = False
cb.grid.visible = False
cb.outline_line_color = "#555555"
cb.image(image=[np.linspace(0, 1, 256).reshape(256, 1)], x=0, y=0, dw=1, dh=1,
         color_mapper=LinearColorMapper(palette=JET, low=0, high=1))

layout = row(column(p1, p2, p3, p4, foot), cb)
open("out.html", "w").write(file_html(layout, INLINE))
